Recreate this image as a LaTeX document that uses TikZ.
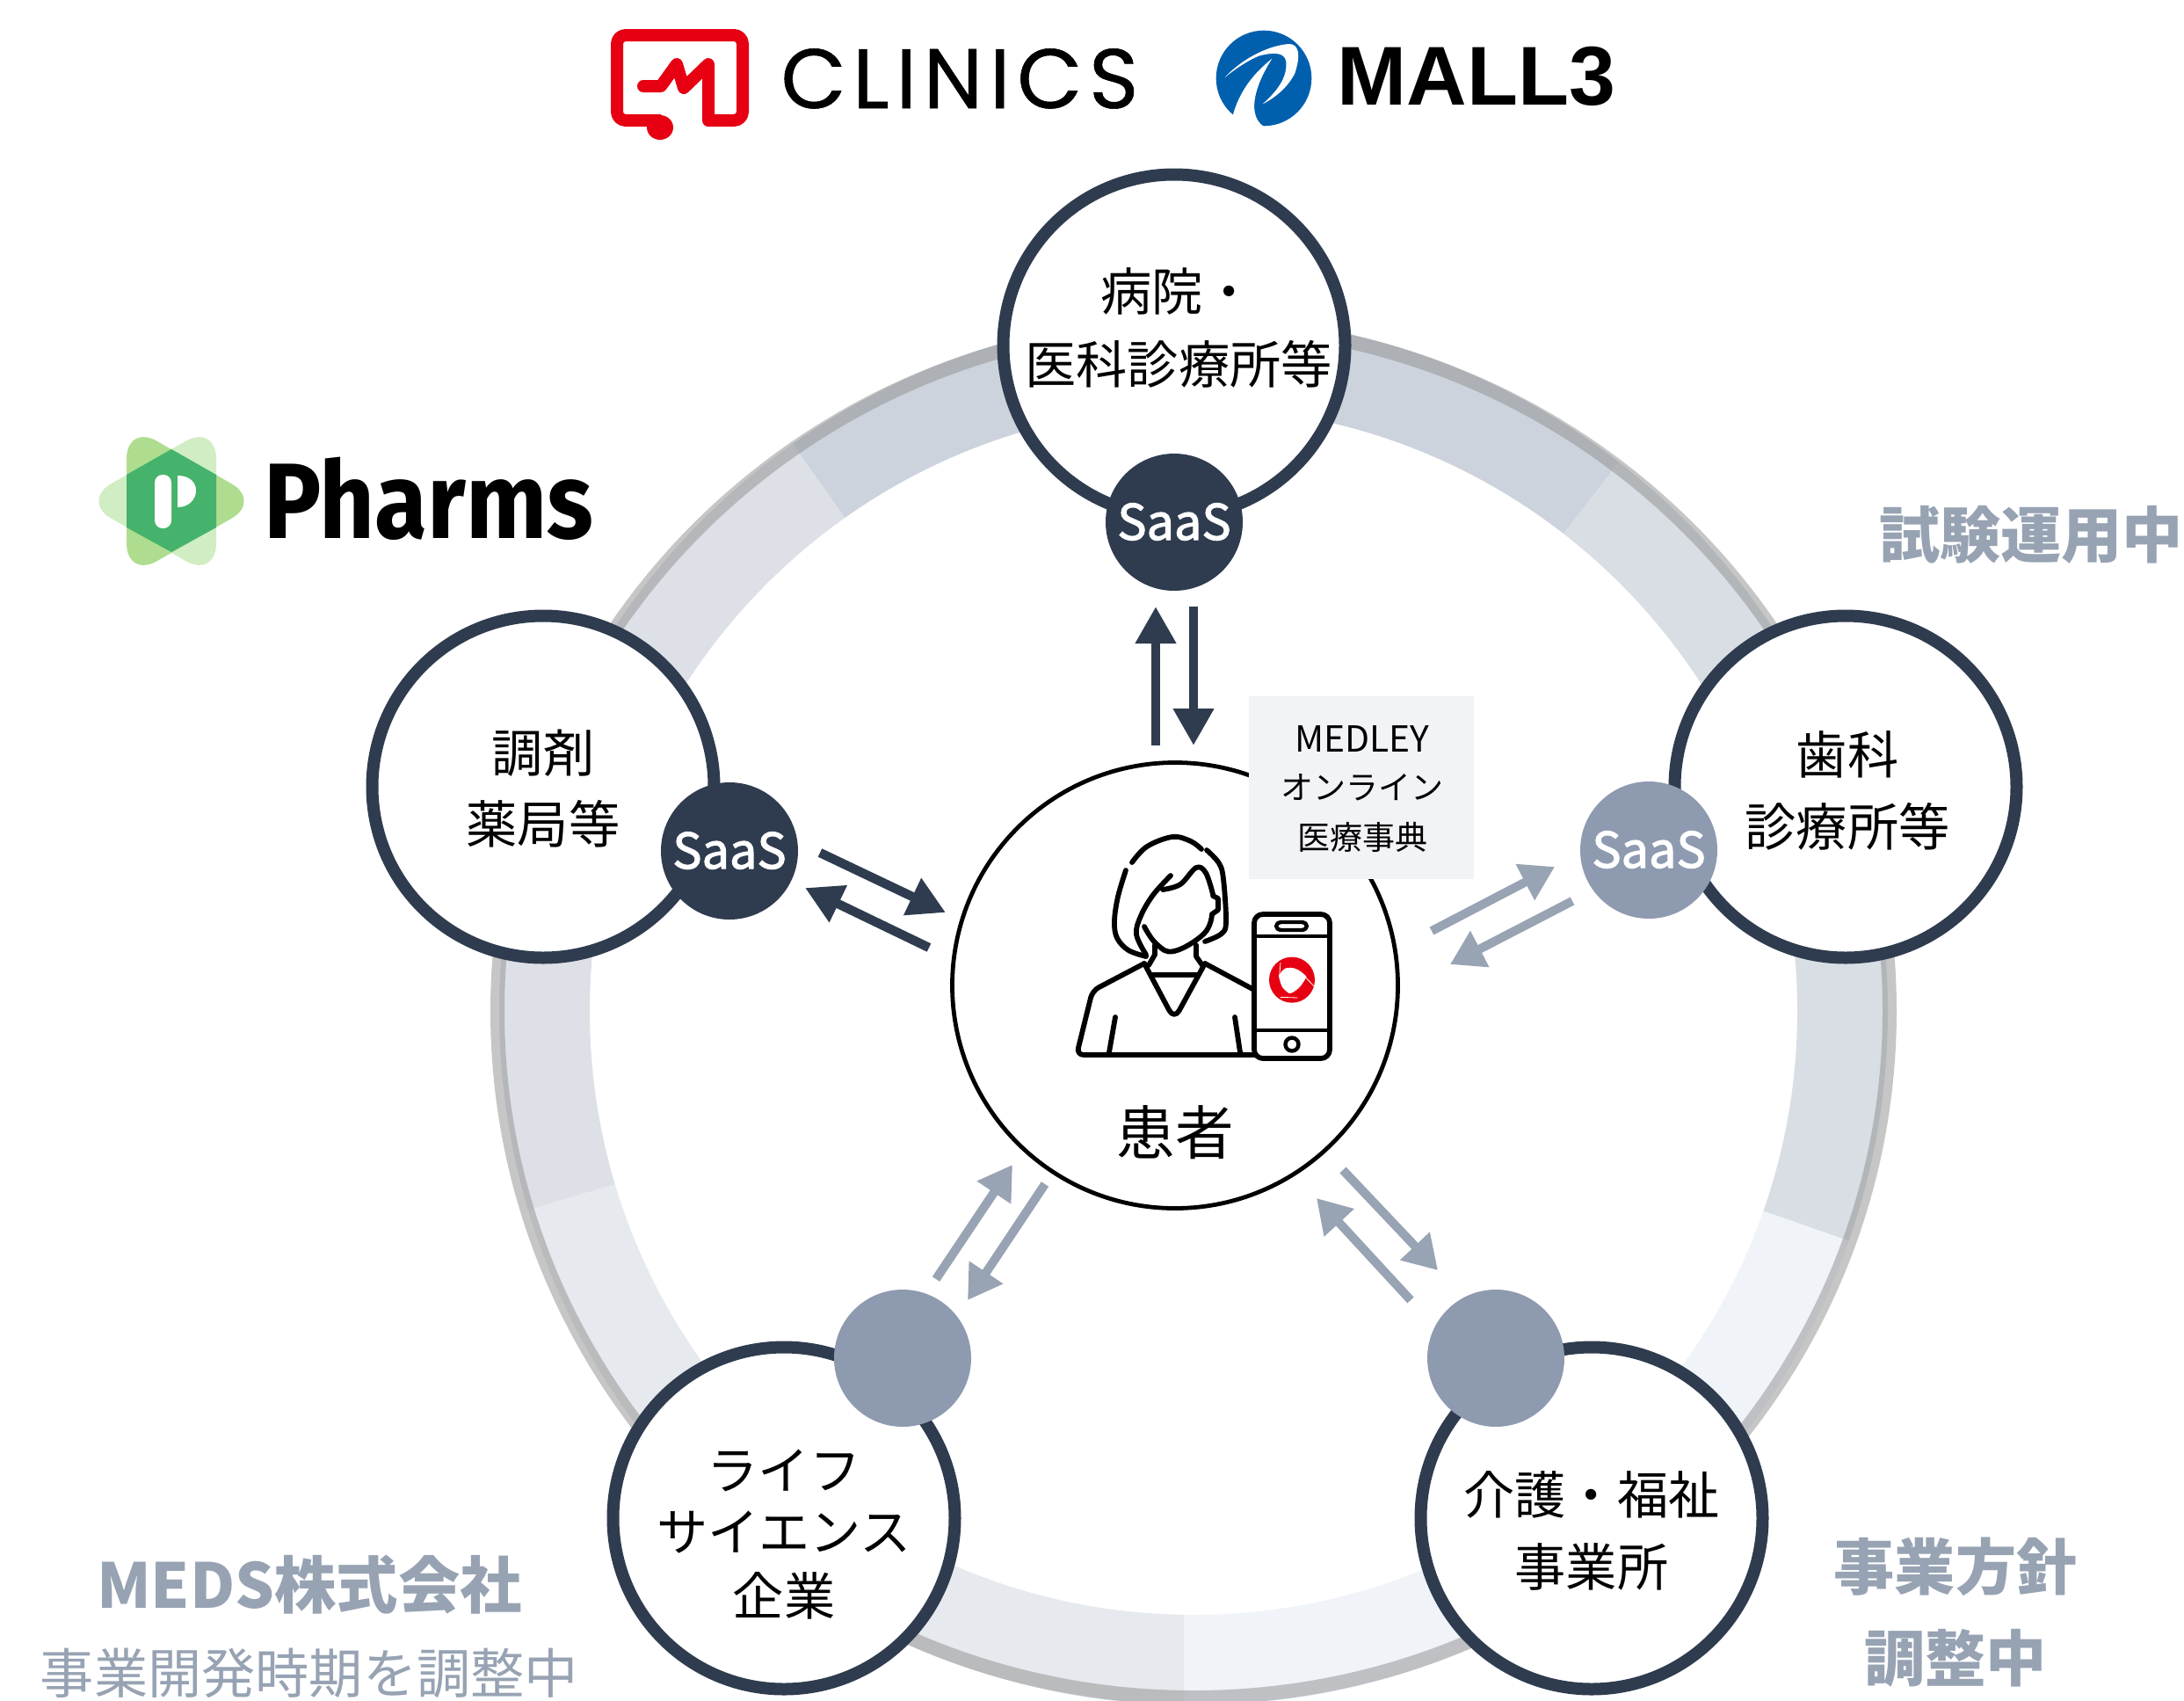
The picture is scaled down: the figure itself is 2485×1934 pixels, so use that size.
\documentclass[tikz,border=0pt]{standalone}
\usepackage{fontspec}
\usetikzlibrary{arrows.meta}
\setmainfont{Noto Sans CJK JP}
\newfontfamily\saasfont[FakeBold=2]{Noto Sans CJK JP}
\newfontfamily\cliniclogo[LetterSpace=8,FakeBold=0.6]{Poppins}
\newfontfamily\malllogo{Liberation Sans}
\newfontfamily\pharmlogo{Fira Sans}
\definecolor{navy}{HTML}{2F3C4F}
\definecolor{slatecircle}{HTML}{8E9AB0}
\definecolor{slatearrow}{HTML}{98A3B3}
\definecolor{slatetext}{HTML}{97A3B3}
\definecolor{brandred}{HTML}{E60012}
\definecolor{mallblue}{HTML}{0060AE}
\definecolor{segtop}{HTML}{CCD3DC}
\definecolor{segright}{HTML}{D9DEE5}
\definecolor{seglowright}{HTML}{F0F3F8}
\definecolor{seglowleft}{HTML}{E6E9ED}
\definecolor{segleft}{HTML}{DDE0E6}
\definecolor{boxgrey}{HTML}{F2F3F7}
\definecolor{leafdark}{HTML}{AEDD8F}
\definecolor{leaflight}{HTML}{D1EDC3}
\definecolor{leafcore}{HTML}{45B36B}
\tikzset{
  x=0.5pt, y=-0.5pt,
  bigring/.style={circle,draw=navy,line width=7pt,fill=white,minimum size=194.5pt,inner sep=0pt},
  patientring/.style={circle,draw=black,line width=2.4pt,fill=white,minimum size=253.5pt,inner sep=0pt},
  saasdark/.style={circle,fill=navy,minimum size=78pt,inner sep=0pt},
  saaslight/.style={circle,fill=slatecircle,minimum size=78pt,inner sep=0pt},
  saastext/.style={anchor=base,inner sep=0pt,text=white,font=\saasfont\fontsize{27.9}{32}\selectfont},
  jptext/.style={anchor=base,inner sep=0pt,text=black,font=\fontsize{29.1}{34}\selectfont},
  sidebold/.style={anchor=base,inner sep=0pt,text=slatetext,font=\fontsize{34.6}{40}\selectfont\bfseries},
  boxtext/.style={anchor=base,inner sep=0pt,text=black,font=\fontsize{18.5}{22}\selectfont},
  darkarrow/.style={draw=navy,line width=5.2pt,-{Triangle[length=21pt,width=22pt]}},
  lightarrow/.style={draw=slatearrow,line width=5pt,-{Triangle[length=19pt,width=22pt]}},
  iconline/.style={draw=black,line width=2.9pt,line cap=round,line join=round},
  iconthin/.style={draw=black,line width=2.2pt,line cap=round,line join=round},
}
\begin{document}
\begin{tikzpicture}
\path[use as bounding box] (0,0) rectangle (2485,1934);
\clip (0,0) rectangle (2485,1934);
\fill[white] (0,0) rectangle (2485,1934);

% five-part band around the diagram
\foreach \col/\wedge in {
  segtop/{(1358,1150) -- (723,252) -- (723,-100) -- (2032,-100) -- (2032,281) -- cycle},
  segright/{(1358,1150) -- (2032,281) -- (2600,281) -- (2600,1516) -- (2401,1516) -- cycle},
  seglowright/{(1358,1150) -- (2401,1516) -- (2401,2100) -- (1347,2100) -- (1347,1150) -- cycle},
  seglowleft/{(1347,1150) -- (1347,2100) -- (305,2100) -- (305,1465) -- (1358,1150) -- cycle},
  segleft/{(1358,1150) -- (305,1465) -- (305,252) -- (723,252) -- cycle}}
{
  \begin{scope}
    \expandafter\clip\wedge;
    \fill[\col,even odd rule] (1358,1150) circle[radius=790] (1358,1150) circle[radius=687];
  \end{scope}
}
% soft outer rim of the band
\fill[color=black!44,opacity=.5,even odd rule]
  (1358,1150) ellipse[x radius=800,y radius=789]
  (1358,1150) ellipse[x radius=784,y radius=773];

% patient in the centre
\node[patientring] (patient) at (1337,1121) {};
\node[jptext,font=\fontsize{33.3}{38}\selectfont] (patientlabel) at (1337,1313) {患者};
\node[anchor=north west,fill=boxgrey,minimum width=128pt,minimum height=104pt,inner sep=0pt] (medleybox) at (1421,792) {};
\node[boxtext,font=\fontsize{20.4}{24}\selectfont] (medleyA) at (1550,855) {MEDLEY};
\node[boxtext] (medleyB) at (1550,909) {オンライン};
\node[boxtext] (medleyC) at (1550,966) {医療事典};

% person with a phone
\draw[iconline] plot[smooth,tension=.6] coordinates {(1288,981) (1305,963) (1334,952) (1355,957) (1367,966)};
\draw[iconline] plot[smooth,tension=.6] coordinates {(1373,967) (1387,982) (1392,1000) (1395,1048) (1390,1062) (1371,1071)};
\draw[iconline] plot[smooth,tension=.6] coordinates {(1281,990) (1272,1020) (1268,1048) (1271,1067) (1284,1081) (1304,1088)};
\draw[iconline] plot[smooth,tension=.6] coordinates {(1332,996) (1312,1018) (1298,1042) (1293,1063) (1304,1086)};
\draw[iconline] plot[smooth,tension=.6] coordinates {(1323,1012) (1343,1006) (1361,987) (1372,993) (1380,1017)};
\draw[iconline] (1380,1019) -- (1386,1022) -- (1386,1035) -- (1379,1040);
\draw[iconline] plot[smooth,tension=.7] coordinates {(1379,1040) (1370,1062) (1336,1082) (1316,1074) (1302,1054)};
\draw[iconline] (1314,1075) -- (1314,1086) -- (1307,1098);
\draw[iconline] (1361,1075) -- (1361,1088) -- (1368,1098);
\draw[iconline,rounded corners=6pt] (1302,1096) -- (1336,1160) -- (1371,1096);
\draw[iconline] (1311,1109) -- (1362,1109);
\draw[iconline,rounded corners=4pt] (1302,1096) -- (1243,1127) -- (1225,1200) -- (1428,1200);
\draw[iconline] (1371,1096) -- (1427,1126);
\draw[iconline] (1269,1157) -- (1262,1197);
\draw[iconline] (1405,1157) -- (1411,1197);
\draw[iconline,fill=white,rounded corners=5pt] (1427,1040) rectangle (1513,1204);
\draw[iconthin] (1427,1065) -- (1513,1065);
\draw[iconthin] (1427,1172) -- (1513,1172);
\draw[iconthin,rounded corners=2.5pt] (1452,1049) rectangle (1487,1058);
\draw[iconthin] (1470,1188) circle[radius=7.5];
% red app mark on the phone
\begin{scope}[shift={(1435,1080)},scale=1/3]
  \fill[brandred,even odd rule] (105,104) circle[radius=78]
    plot[smooth cycle,tension=.9] coordinates {(66,80) (100,62) (146,84) (148,106) (110,146) (82,140) (64,108)};
  \draw[white,line width=.4pt] (66,45) -- (62,92);
  \draw[white,line width=.4pt] (146,90) -- (180,125);
  \draw[white,line width=.4pt] (66,163) -- (125,165);
\end{scope}

% surrounding groups
\node[bigring] (hospital) at (1336,393) {};
\node[bigring] (pharmacy) at (618,895) {};
\node[bigring] (dental) at (2100,895) {};
\node[bigring] (lifesci) at (892,1727) {};
\node[bigring] (care) at (1811,1727) {};
\node[saasdark] (saasHospital) at (1336,594) {};
\node[saasdark] (saasPharmacy) at (830,968) {};
\node[saaslight] (saasDental) at (1876,967) {};
\node[saaslight] (dotLife) at (1027,1545) {};
\node[saaslight] (dotCare) at (1702,1545) {};
\node[saastext] (saasTextA) at (1336,614) {SaaS};
\node[saastext] (saasTextB) at (830,988) {SaaS};
\node[saastext] (saasTextC) at (1876,987) {SaaS};

\node[jptext] (hospA) at (1340,353) {病院・};
\node[jptext] (hospB) at (1341,436) {医科診療所等};
\node[jptext] (pharmA) at (618,878) {調剤};
\node[jptext] (pharmB) at (618,959) {薬局等};
\node[jptext] (dentA) at (2102,880) {歯科};
\node[jptext] (dentB) at (2102,962) {診療所等};
\node[jptext] (lifeA) at (892,1694) {ライフ};
\node[jptext] (lifeB) at (892,1764) {サイエンス};
\node[jptext] (lifeC) at (892,1837) {企業};
\node[jptext] (careA) at (1811,1722) {介護・福祉};
\node[jptext] (careB) at (1811,1804) {事業所};

% status labels
\node[sidebold] (trial) at (2311,634) {試験運用中};
\node[sidebold] (policyA) at (2225,1808) {事業方針};
\node[sidebold] (policyB) at (2225,1912) {調整中};
\node[sidebold,font=\fontsize{35.2}{40}\selectfont\bfseries] (meds) at (352,1829) {MEDS株式会社};
\node[anchor=base,inner sep=0pt,text=slatetext,font=\fontsize{30.6}{36}\selectfont] (medsNote) at (352,1926) {事業開発時期を調整中};

% arrow end points
\coordinate (hUpA) at (1315,848);  \coordinate (hUpB) at (1315,690);
\coordinate (hDnA) at (1358,690);  \coordinate (hDnB) at (1358,848);
\coordinate (pToA) at (933,970);   \coordinate (pToB) at (1076,1038);
\coordinate (pFrA) at (1057,1078); \coordinate (pFrB) at (916,1010);
\coordinate (dToA) at (1629,1059); \coordinate (dToB) at (1769,986);
\coordinate (dFrA) at (1789,1025); \coordinate (dFrB) at (1650,1097);
\coordinate (lToA) at (1065,1455); \coordinate (lToB) at (1152,1325);
\coordinate (lFrA) at (1189,1347); \coordinate (lFrB) at (1101,1479);
\coordinate (cToA) at (1528,1331); \coordinate (cToB) at (1636,1445);
\coordinate (cFrA) at (1605,1479); \coordinate (cFrB) at (1498,1363);
\draw[darkarrow] (hUpA) -- (hUpB);
\draw[darkarrow] (hDnA) -- (hDnB);
\draw[darkarrow] (pToA) -- (pToB);
\draw[darkarrow] (pFrA) -- (pFrB);
\draw[lightarrow] (dToA) -- (dToB);
\draw[lightarrow] (dFrA) -- (dFrB);
\draw[lightarrow] (lToA) -- (lToB);
\draw[lightarrow] (lFrA) -- (lFrB);
\draw[lightarrow] (cToA) -- (cToB);
\draw[lightarrow] (cFrA) -- (cFrB);

% CLINICS mark and wordmark
\begin{scope}
  \draw[brandred,line width=7pt,line join=round,rounded corners=5pt]
    (806,137) -- (845,137) -- (845,40) -- (702,40) -- (702,137) -- (752,137);
  \draw[brandred,line width=7pt,line join=round,line cap=round]
    (732,98) -- (752,98) -- (770,73) -- (778,100) -- (806,73) -- (806,137);
  \fill[brandred] (751,145) ellipse[x radius=15,y radius=14];
\end{scope}
\node[anchor=base,inner sep=0pt,text=black,font=\cliniclogo\fontsize{48}{52}\selectfont] (clinicsWord) at (1092,123) {CLINICS};

% MALL3 mark and wordmark
\begin{scope}[shift={(1370,20)},scale=1/3]
  \fill[mallblue] (204,207) circle[radius=163];
  \fill[white] (232,140) .. controls (170,190) and (120,250) .. (97,338)
     -- (110,370) -- (210,375) .. controls (160,350) and (150,270) .. (232,140) -- cycle;
  \fill[white] (70,205) .. controls (130,140) and (220,95) .. (290,90)
     .. controls (325,90) and (330,130) .. (310,190)
     .. controls (285,240) and (240,275) .. (200,295)
     .. controls (250,250) and (285,205) .. (280,150)
     .. controls (275,115) and (230,120) .. (190,130)
     .. controls (150,145) and (100,180) .. (70,205) -- cycle;
\end{scope}
\node[anchor=base,inner sep=0pt,text=black,font=\malllogo\bfseries\fontsize{47.5}{52}\selectfont] (mallWord) at (1680,119) {MALL3};

% Pharms mark and wordmark
\fill[leaflight,rounded corners=20pt] (246,482) -- (92,570) -- (246,658) -- cycle;
\fill[leafdark,rounded corners=20pt] (144,482) -- (298,570) -- (144,658) -- cycle;
\fill[leafcore] (144,540) -- (195,511) -- (246,540) -- (246,600) -- (195,628) -- (144,600) -- cycle;
\fill[white,rounded corners=4.5pt] (176,540) rectangle (195,601);
\fill[white] (202,541) .. controls (232,541) and (228,577) .. (202,577) -- cycle;
\node[anchor=base,inner sep=0pt,text=black,font=\pharmlogo\bfseries\fontsize{61}{65}\selectfont] (pharmsWord) at (488,612) {\scalebox{.895}[1]{Pharms}};
\end{tikzpicture}
\end{document}
